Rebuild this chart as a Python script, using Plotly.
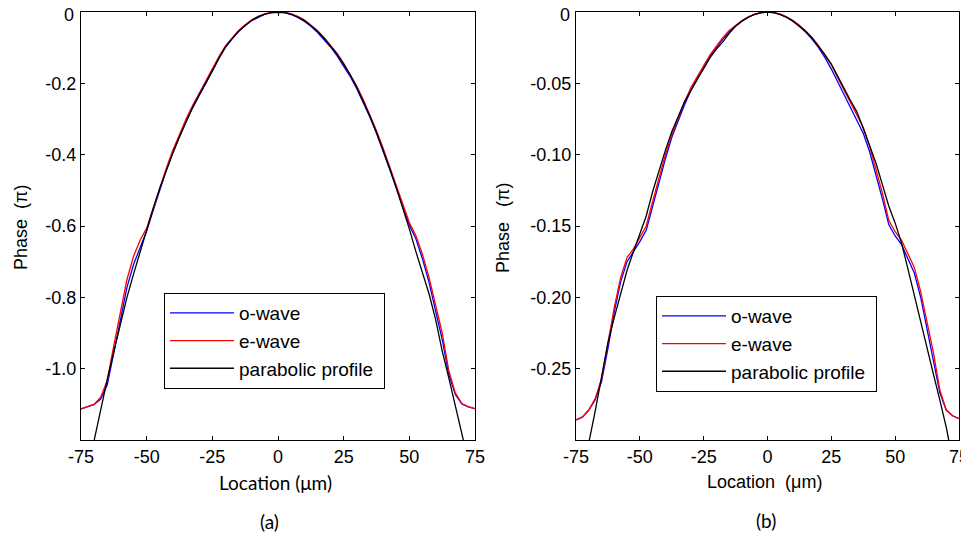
import plotly.graph_objects as go

# ---------------- data ----------------
x_um = [-75, -72.5, -70, -67.5, -65, -62.5, -60, -57.5, -55, -52.5, -50, -47.5, -45, -42.5, -40,
        -37.5, -35, -32.5, -30, -27.5, -25, -22.5, -20, -17.5, -15, -12.5, -10, -7.5, -5, -2.5, 0,
        2.5, 5, 7.5, 10, 12.5, 15, 17.5, 20, 22.5, 25, 27.5, 30, 32.5, 35, 37.5, 40, 42.5, 45,
        47.5, 50, 52.5, 55, 57.5, 60, 62.5, 65, 67.5, 70, 72.5, 75]

# panel (a)
a_owave = [-1.113, -1.107, -1.100, -1.085, -1.045, -0.955, -0.862, -0.772, -0.708, -0.660, -0.614,
           -0.556, -0.497, -0.443, -0.393, -0.349, -0.306, -0.268, -0.232, -0.200, -0.165, -0.129,
           -0.099, -0.075, -0.055, -0.038, -0.024, -0.014, -0.006, -0.002, -0.001,
           -0.002, -0.007, -0.015, -0.026, -0.040, -0.057, -0.076, -0.098, -0.123, -0.151, -0.181,
           -0.215, -0.253, -0.295, -0.340, -0.389, -0.440, -0.493, -0.548, -0.598, -0.636, -0.692,
           -0.758, -0.838, -0.918, -1.015, -1.072, -1.099, -1.107, -1.112]
a_ewave = [-1.113, -1.107, -1.100, -1.080, -1.033, -0.935, -0.845, -0.750, -0.685, -0.640, -0.606,
           -0.549, -0.490, -0.437, -0.387, -0.343, -0.300, -0.262, -0.227, -0.195, -0.160, -0.125,
           -0.095, -0.072, -0.052, -0.036, -0.022, -0.012, -0.005, -0.001, 0.000,
           -0.001, -0.005, -0.012, -0.022, -0.036, -0.052, -0.071, -0.092, -0.116, -0.144, -0.174,
           -0.208, -0.246, -0.288, -0.333, -0.381, -0.432, -0.484, -0.540, -0.590, -0.627, -0.680,
           -0.744, -0.822, -0.900, -1.005, -1.068, -1.098, -1.107, -1.112]
a_parabolic = [-1.373, -1.285, -1.198, -1.112, -1.030, -0.952, -0.878, -0.800, -0.735, -0.672, -0.610,
               -0.550, -0.494, -0.443, -0.395, -0.350, -0.308, -0.268, -0.232, -0.200, -0.165, -0.130,
               -0.098, -0.075, -0.054, -0.038, -0.023, -0.013, -0.006, -0.002, 0.000,
               -0.002, -0.006, -0.014, -0.024, -0.038, -0.054, -0.073, -0.094, -0.118, -0.146, -0.176,
               -0.211, -0.250, -0.292, -0.338, -0.387, -0.438, -0.492, -0.548, -0.608, -0.672, -0.728,
               -0.790, -0.862, -0.950, -1.025, -1.100, -1.175, -1.255, -1.340]

# panel (b)
b_owave = [-0.286, -0.284, -0.279, -0.272, -0.259, -0.236, -0.210, -0.189, -0.175, -0.168, -0.161,
           -0.153, -0.136, -0.119, -0.103, -0.088, -0.076, -0.065, -0.055, -0.046, -0.038, -0.031,
           -0.025, -0.019, -0.014, -0.0097, -0.0063, -0.0036, -0.0016, -0.0005, -0.0001,
           -0.0005, -0.0017, -0.0037, -0.0065, -0.0100, -0.0142, -0.0192, -0.0250, -0.032, -0.040,
           -0.049, -0.058, -0.067, -0.075, -0.085, -0.098, -0.114, -0.131, -0.149, -0.157, -0.163,
           -0.173, -0.183, -0.200, -0.222, -0.244, -0.267, -0.279, -0.283, -0.285]
b_ewave = [-0.286, -0.284, -0.279, -0.271, -0.257, -0.233, -0.207, -0.186, -0.172, -0.166, -0.158,
           -0.150, -0.133, -0.116, -0.100, -0.086, -0.074, -0.063, -0.053, -0.045, -0.037, -0.030,
           -0.024, -0.018, -0.013, -0.0092, -0.0060, -0.0034, -0.0015, -0.0004, 0.0,
           -0.0004, -0.0015, -0.0034, -0.0060, -0.0093, -0.0133, -0.0180, -0.0235, -0.030, -0.037,
           -0.046, -0.055, -0.064, -0.072, -0.081, -0.094, -0.110, -0.127, -0.146, -0.154, -0.160,
           -0.170, -0.179, -0.196, -0.217, -0.239, -0.265, -0.279, -0.283, -0.285]
b_parabolic = [-0.346, -0.323, -0.302, -0.280, -0.255, -0.232, -0.214, -0.197, -0.181, -0.168, -0.156,
               -0.143, -0.126, -0.111, -0.097, -0.084, -0.073, -0.063, -0.055, -0.047, -0.039, -0.032,
               -0.026, -0.021, -0.015, -0.0100, -0.0064, -0.0037, -0.0017, -0.0005, 0.0,
               -0.0005, -0.0018, -0.0038, -0.0064, -0.0097, -0.0136, -0.0183, -0.0238, -0.0300, -0.0365,
               -0.0445, -0.0535, -0.0620, -0.0700, -0.0815, -0.0935, -0.1060, -0.1210, -0.1360, -0.1480,
               -0.1620, -0.1800, -0.1990, -0.2170, -0.2360, -0.2540, -0.2720, -0.2910, -0.3140, -0.3380]

x_tickvals = [-75, -50, -25, 0, 25, 50, 75]
x_ticktext = ["-75", "-50", "-25", "0", "25", "50", "75"]
ya_tickvals = [0, -0.2, -0.4, -0.6, -0.8, -1.0]
ya_ticktext = ["0", "-0.2", "-0.4", "-0.6", "-0.8", "-1.0"]
yb_tickvals = [0, -0.05, -0.10, -0.15, -0.20, -0.25]
yb_ticktext = ["0", "-0.05", "-0.10", "-0.15", "-0.20", "-0.25"]

series_names = ["o-wave", "e-wave", "parabolic profile\u00a0"]
series_colors = ["#0000ff", "#ff0000", "#000000"]

# ---------------- figure ----------------
# The page has an 8 px body margin: the figure is sized/positioned so that
# window pixel (X, Y) corresponds to figure pixel (X - OFF, Y - OFF).
OFF = 8
W, H = 969 - OFF, 536 - OFF
FONT = "Liberation Sans, Arial, sans-serif"


def px(X):
    return (X - OFF) / W


def py(Y):
    return 1 - (Y - OFF) / H


fig = go.Figure()

for data, xa, ya, leg in [((a_owave, a_ewave, a_parabolic), "x", "y", "legend"),
                          ((b_owave, b_ewave, b_parabolic), "x2", "y2", "legend2")]:
    for name, col, vals in zip(series_names, series_colors, data):
        fig.add_trace(go.Scatter(x=x_um, y=vals, mode="lines", name=name,
                                 line=dict(color=col, width=1.3),
                                 xaxis=xa, yaxis=ya, legend=leg))

axis_common = dict(showgrid=False, zeroline=False, showline=True, linecolor="black",
                   linewidth=1.3, mirror="ticks", ticks="inside", ticklen=4,
                   tickcolor="black", tickwidth=1, automargin=False,
                   ticklabeloverflow="allow",
                   tickfont=dict(family=FONT, size=18, color="black"))

legend_common = dict(xanchor="left", yanchor="top", bordercolor="black", borderwidth=1,
                     bgcolor="white", font=dict(family=FONT, size=19, color="black"),
                     itemwidth=64, tracegroupgap=0)

# the top "0" label sits right at the page edge; it is drawn as text just below
ya_labels = [""] + ya_ticktext[1:]
yb_labels = [""] + yb_ticktext[1:]

fig.update_layout(
    template="none",
    width=W, height=H, autosize=False,
    margin=dict(l=0, r=0, t=0, b=0, pad=0),
    paper_bgcolor="white", plot_bgcolor="white",
    font=dict(family=FONT, size=18, color="black"),
    xaxis=dict(domain=[px(81), px(475)], range=[-75, 75], tickvals=x_tickvals,
               ticktext=x_ticktext, anchor="y", **axis_common),
    yaxis=dict(domain=[py(440), py(12)], range=[-1.2, 0], tickvals=ya_tickvals,
               ticktext=ya_labels, anchor="x", **axis_common),
    xaxis2=dict(domain=[px(576), px(959)], range=[-75, 75], tickvals=x_tickvals,
                ticktext=x_ticktext, anchor="y2", **axis_common),
    yaxis2=dict(domain=[py(440), py(12)], range=[-0.3, 0], tickvals=yb_tickvals,
                ticktext=yb_labels, anchor="x2", **axis_common),
    legend=dict(x=px(164), y=py(293), **legend_common),
    legend2=dict(x=px(656), y=py(296), **legend_common),
    showlegend=True,
)

NB = "\u00a0"
LATO = "Lato, Liberation Sans, sans-serif"
annots = [
    dict(text="Phase" + NB * 2 + "(π)", x=px(21), y=py(228), textangle=-90,
         font=dict(family=FONT, size=18)),
    dict(text="Phase" + NB * 3 + "(π)", x=px(503), y=py(228), textangle=-90,
         font=dict(family=FONT, size=18)),
    dict(text="Location (μm)", x=px(275), y=py(482), font=dict(family=LATO, size=19)),
    dict(text="Location" + NB * 2 + "(μm)", x=px(764.5), y=py(482),
         font=dict(family=FONT, size=18)),
    dict(text="(a)", x=px(269), y=py(521), font=dict(family=LATO, size=19)),
    dict(text="(b)", x=px(765.5), y=py(520), font=dict(family=LATO, size=19)),
]
for a in annots:
    fig.add_annotation(xref="paper", yref="paper", showarrow=False,
                       xanchor="center", yanchor="middle", **a)

# top "0" tick labels
for X in (76, 572):
    fig.add_annotation(xref="paper", yref="paper", showarrow=False, text=ya_ticktext[0],
                       x=px(X), y=py(14.5), xanchor="right", yanchor="middle",
                       font=dict(family=FONT, size=18, color="black"))

fig.write_html("out.html")
